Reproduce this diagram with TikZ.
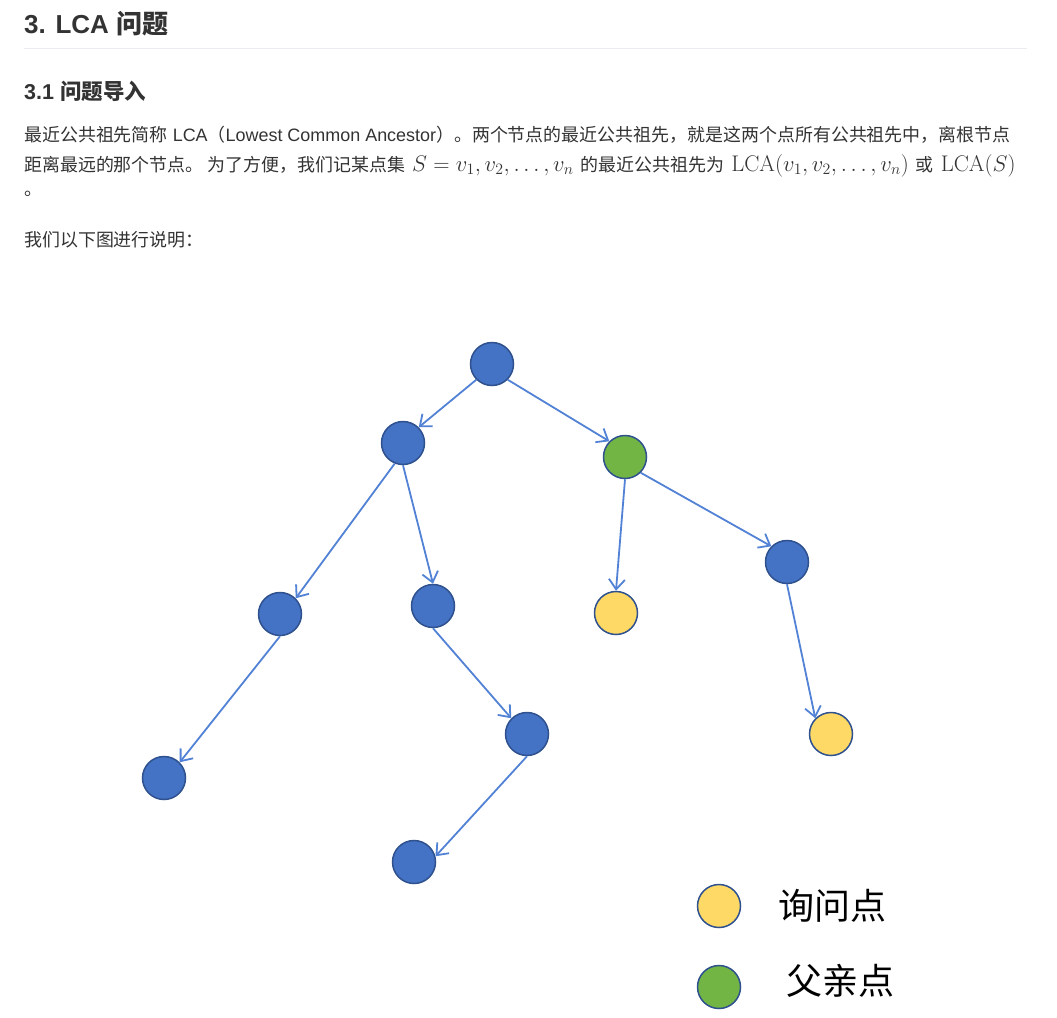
\RequirePackage{fix-cm}
\documentclass[tikz,border=0pt]{standalone}
\usepackage[no-math]{fontspec}
\setmainfont{Liberation Sans}
\newfontfamily\cjk{Noto Sans CJK SC}
\usetikzlibrary{arrows.meta,positioning}

\definecolor{txtgray}{HTML}{333333}
\definecolor{rulegray}{HTML}{EAECEF}
\definecolor{nodeblue}{HTML}{4472C4}
\definecolor{nodeedge}{HTML}{2F528F}
\definecolor{edgeblue}{HTML}{5282D6}
\definecolor{parentgreen}{HTML}{72B545}
\definecolor{queryyellow}{HTML}{FFD966}

\newcommand{\km}[1]{\hspace{7pt}{\fontsize{22.6}{25}\selectfont$#1$}\hspace{7pt}}

\begin{document}
\begin{tikzpicture}[
    x=1pt, y=-1pt,
    vertex/.style={circle, draw=nodeedge, line width=1.5pt, fill=nodeblue,
                   minimum size=43pt, inner sep=0pt},
    query/.style={vertex, fill=queryyellow},
    parentpt/.style={vertex, fill=parentgreen},
    arrow/.style={-{Straight Barb[length=10pt,width=16pt]}, line width=1.8pt, draw=edgeblue},
    para/.style={anchor=base west, inner sep=0pt, text=txtgray,
                 font=\fontsize{17.95}{21}\selectfont},
    htwo/.style={para, font=\fontsize{26}{30}\selectfont\bfseries},
    hthree/.style={para, font=\fontsize{21.5}{26}\selectfont\bfseries},
    lbl/.style={inner sep=0pt, font=\fontsize{36}{40}\selectfont\cjk, text=black}
]
\fill[white] (0,0) rectangle (1057,1017);
\useasboundingbox (0,0) rectangle (1057,1017);

%% ── Headings and text ───────────────────────────────────────────
\node[htwo] (title) at (24,33) {3. LCA {\cjk 问题}};
\coordinate (ruleL) at (24,48);
\coordinate (ruleR) at (1027,48);
\draw[rulegray, line width=1pt] (ruleL) -- (ruleR);
\node[hthree] (sub) at (24,99) {3.1 {\cjk 问题导入}};

\node[para] (line1) at (24,141.5) {{\cjk 最近公共祖先简称} LCA{\cjk （}Lowest Common Ancestor{\cjk ）。两个节点的最近公共祖先，就是这两个点所有公共祖先中，离根节点}};
\node[para] (line2) at (24,171.5) {{\cjk 距离最远的那个节点。 为了方便，我们记某点集}\km{S = v_1, v_2, \ldots, v_n}{\cjk 的最近公共祖先为}\km{\mathrm{LCA}(v_1, v_2, \ldots, v_n)}{\cjk 或}\km{\mathrm{LCA}(S)}};
\node[para] (line3) at (24,195) {\cjk 。};
\node[para] (line4) at (24,246.5) {\cjk 我们以下图进行说明：};

%% ── Tree nodes ──────────────────────────────────────────────────
\node[vertex]   (root) at (492,364) {};
\node[vertex]   (la)   at (403,443) {};
\node[parentpt] (lca)  at (625,457) {};
\node[vertex]   (lb)   at (280,614) {};
\node[vertex]   (lc)   at (433,606) {};
\node[query]    (qa)   at (616,613) {};
\node[vertex]   (rb)   at (787,562) {};
\node[vertex]   (ld)   at (164,778) {};
\node[vertex]   (le)   at (527,734) {};
\node[query]    (qb)   at (831,734) {};
\node[vertex]   (lf)   at (414,862) {};

%% ── Arrows ──────────────────────────────────────────────────────
\draw[arrow] (root.225)  -- (la.45);
\draw[arrow] (root.-45)  -- (lca.135);
\draw[arrow] (la.-112)   -- (lb.45);
\draw[arrow] (la.south)  -- (lc.north);
\draw[arrow] (lca.south) -- (qa.north);
\draw[arrow] (lca.-45)   -- (rb.135);
\draw[arrow] (lb.south)  -- (ld.45);
\draw[arrow] (lc.south)  -- (le.135);
\draw[arrow] (le.south)  -- (lf.15);
\draw[arrow] (rb.south)  -- (qb.135);

%% ── Legend ──────────────────────────────────────────────────────
\node[query]    (keyq) at (719,906) {};
\node[parentpt] (keyp) at (719,987) {};
\node[lbl, right=37pt of keyq] (keyqtxt) {询问点};
\node[lbl, right=45pt of keyp, yshift=6pt] (keyptxt) {父亲点};

\end{tikzpicture}
\end{document}
